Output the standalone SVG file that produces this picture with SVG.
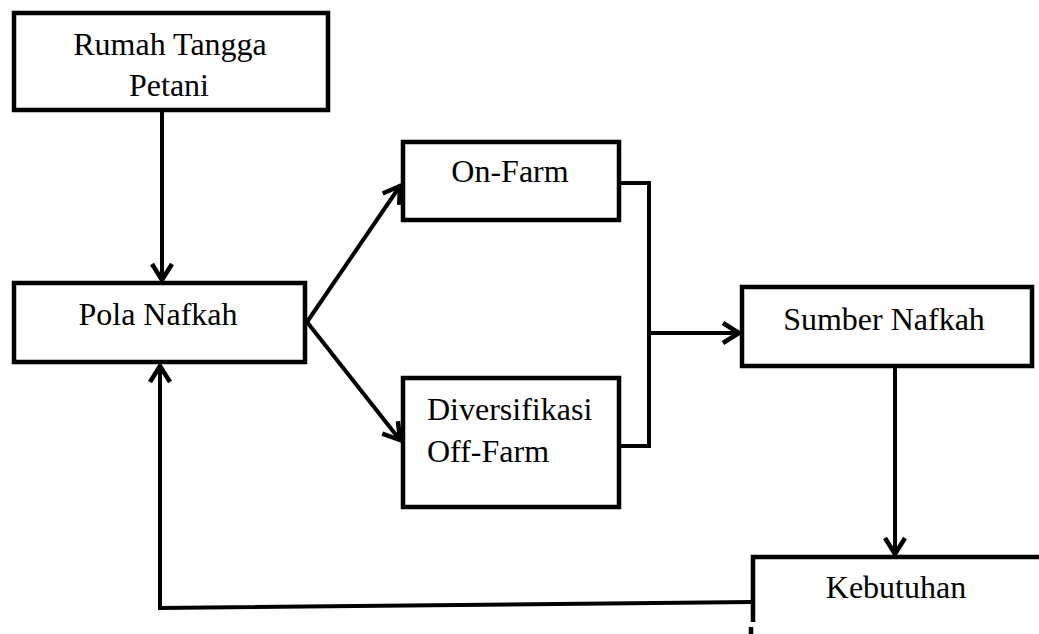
<svg xmlns="http://www.w3.org/2000/svg" width="1039" height="634" viewBox="0 0 1039 634">
<style>
.box{fill:#fff;stroke:#000;stroke-width:4.5}
.ln{fill:none;stroke:#000;stroke-width:4;stroke-linejoin:miter}
text{font-family:"Liberation Serif","Times New Roman",serif;font-size:32px;fill:#000}
.c{text-anchor:middle}
</style>
<defs>
<marker id="ah" markerUnits="userSpaceOnUse" markerWidth="26" markerHeight="26" refX="19" refY="12" orient="auto" viewBox="0 0 26 24">
<path d="M3,2 L19,12 L3,22" fill="none" stroke="#000" stroke-width="4.5"/>
</marker>
</defs>
<rect width="1039" height="634" fill="#fff"/>
<g id="connectors">
<line class="ln" x1="162" y1="111" x2="162" y2="280" marker-end="url(#ah)"/>
<line class="ln" x1="307" y1="322" x2="400" y2="186" marker-end="url(#ah)"/>
<line class="ln" x1="307" y1="322" x2="400" y2="440" marker-end="url(#ah)"/>
<polyline class="ln" points="619,183 649,183 649,446 619,446"/>
<line class="ln" x1="649" y1="333" x2="739" y2="333" marker-end="url(#ah)"/>
<line class="ln" x1="895" y1="366" x2="895" y2="554" marker-end="url(#ah)"/>
<polyline class="ln" points="753,602 160,608 160,366" marker-end="url(#ah)"/>
</g>
<g id="rumah-tangga-petani">
<rect class="box" x="14" y="13" width="314" height="97"/>
<text class="c" x="170" y="55">Rumah Tangga</text>
<text class="c" x="169" y="96">Petani</text>
</g>
<g id="pola-nafkah">
<rect class="box" x="14" y="283" width="291" height="79"/>
<text class="c" x="158" y="325">Pola Nafkah</text>
</g>
<g id="on-farm">
<rect class="box" x="403" y="142" width="216" height="78"/>
<text class="c" x="510" y="182">On-Farm</text>
</g>
<g id="diversifikasi-off-farm">
<rect class="box" x="403" y="378" width="216" height="129"/>
<text x="427" y="420">Diversifikasi</text>
<text x="427" y="462">Off-Farm</text>
</g>
<g id="sumber-nafkah">
<rect class="box" x="742" y="287" width="290" height="79"/>
<text class="c" x="884" y="330">Sumber Nafkah</text>
</g>
<g id="kebutuhan">
<polyline fill="none" stroke="#000" stroke-width="4.5" points="1039,557 753,557 753,622"/>
<line stroke="#000" stroke-width="4.5" x1="751" y1="627" x2="751" y2="634"/>
<text class="c" x="896" y="598">Kebutuhan</text>
</g>
</svg>
